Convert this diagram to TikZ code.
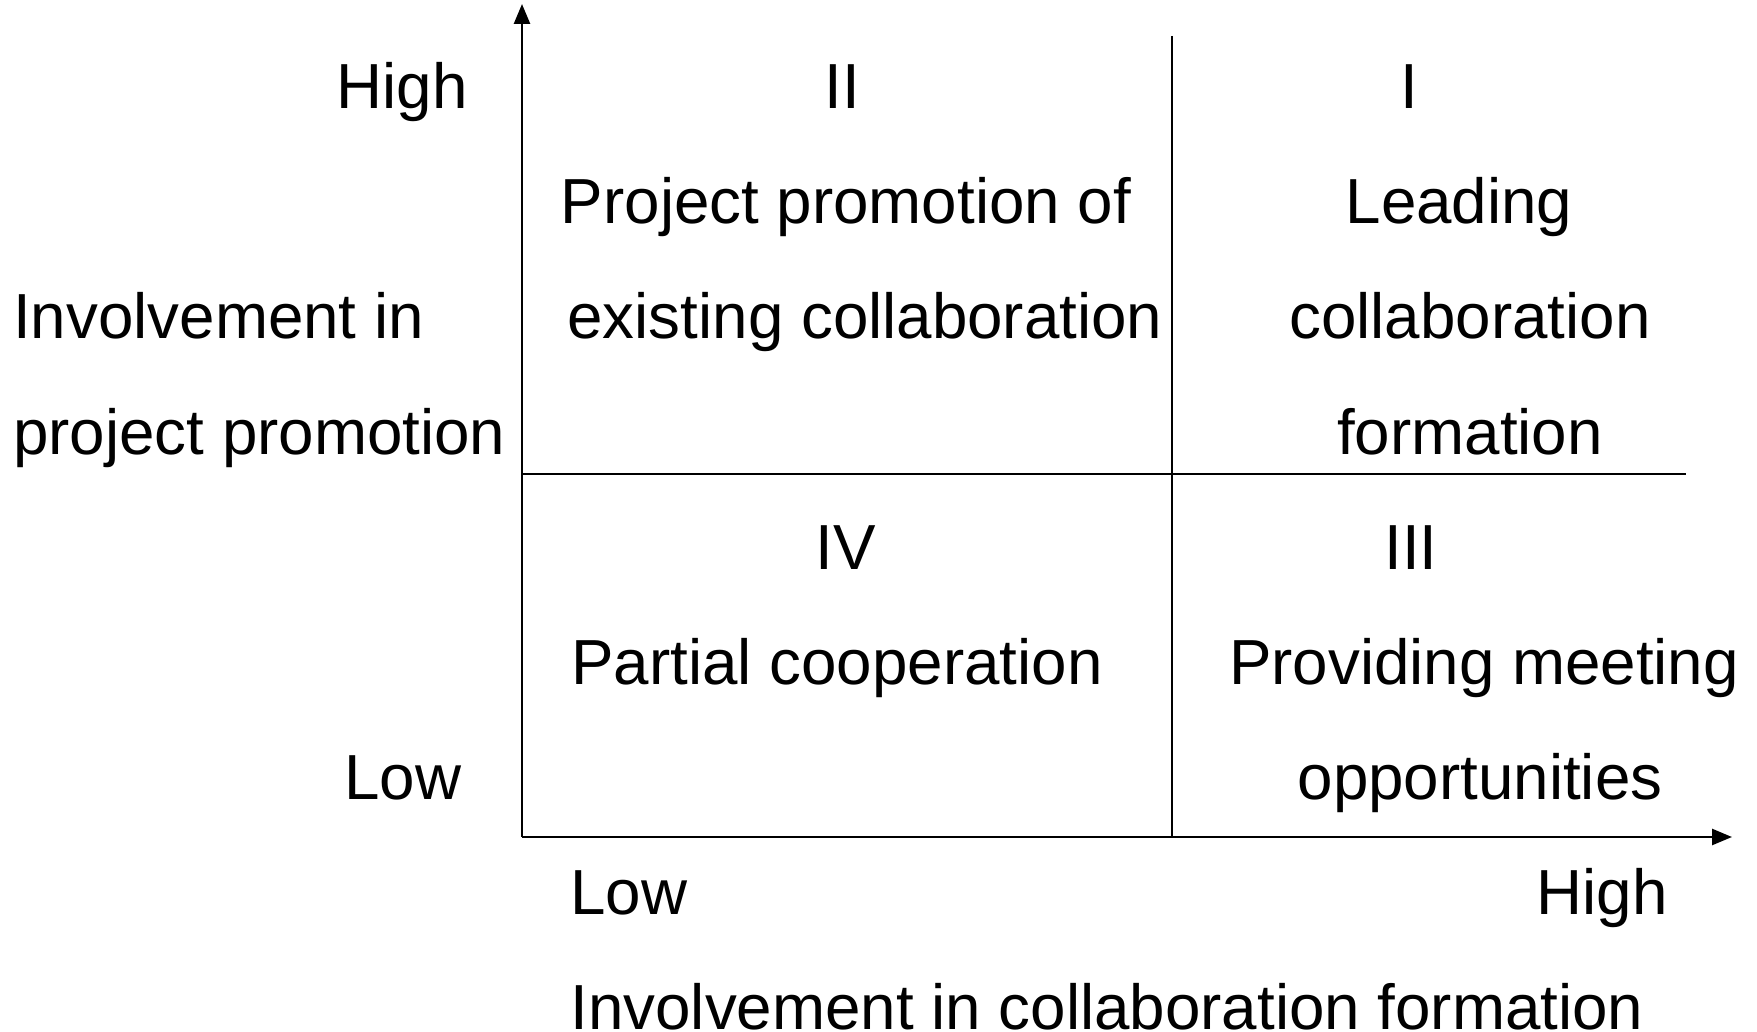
\documentclass[tikz,border=0pt]{standalone}
\usepackage{fontspec}
\setmainfont{Liberation Sans}
\usetikzlibrary{arrows.meta}
\begin{document}
\begin{tikzpicture}[x=1pt,y=-1pt,
  lbl/.style={font=\fontsize{63.7pt}{76pt}\selectfont, inner sep=0pt, anchor=base},
  axis/.style={line width=2.6pt, -{Triangle[length=20pt,width=16pt]}},
  grid/.style={line width=2.2pt}]
\useasboundingbox (0,0) rectangle (1757,1032);
\coordinate (O) at (522,837);
\coordinate (ytip) at (522,4);
\coordinate (xtip) at (1732,837);
\coordinate (vtop) at (1172,36);
\coordinate (vbot) at (1172,837);
\coordinate (hl) at (522,474);
\coordinate (hr) at (1686,474);
\draw[axis] (O) -- (ytip);
\draw[axis] (O) -- (xtip);
\draw[grid] (vtop) -- (vbot);
\draw[grid] (hl) -- (hr);
% y-axis labels
\node[lbl, anchor=base east] (yhigh) at (468,109) {High};
\node[lbl] (ylow) at (403,799) {Low};
\node[lbl, anchor=base west] (ylab1) at (13,339) {Involvement in};
\node[lbl, anchor=base west] (ylab2) at (13,454) {project promotion};
% quadrant II
\node[lbl] (q2) at (842,109) {II};
\node[lbl] (q2a) at (846,224) {Project promotion of};
\node[lbl] (q2b) at (865,339) {existing collaboration};
% quadrant I
\node[lbl] (q1) at (1409,109) {I};
\node[lbl] (q1a) at (1459,224) {Leading};
\node[lbl] (q1b) at (1470,339) {collaboration};
\node[lbl] (q1c) at (1470,454) {formation};
% quadrant IV
\node[lbl] (q4) at (846,569) {IV};
\node[lbl] (q4a) at (837,684) {Partial cooperation};
% quadrant III
\node[lbl] (q3) at (1411,569) {III};
\node[lbl] (q3a) at (1484,684) {Providing meeting};
\node[lbl] (q3b) at (1480,799) {opportunities};
% x-axis labels
\node[lbl] (xlow) at (629,914) {Low};
\node[lbl] (xhigh) at (1602,914) {High};
\node[lbl] (xlab) at (1107,1029) {Involvement in collaboration formation};
\end{tikzpicture}
\end{document}
